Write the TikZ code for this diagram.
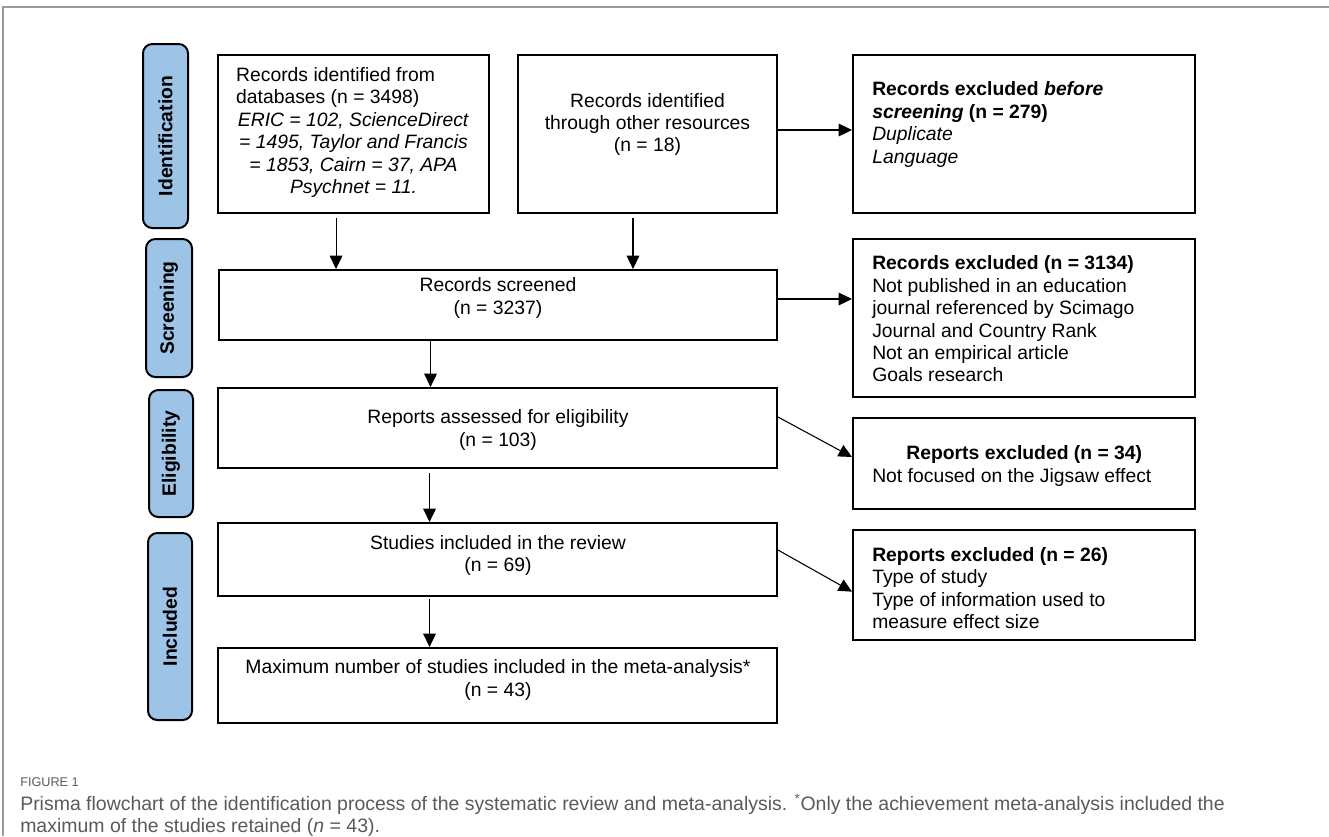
\documentclass[tikz,border=0pt]{standalone}
\usepackage{fontspec}
\setmainfont{Liberation Sans}
\newfontfamily\capfont{Liberation Sans}
\usetikzlibrary{arrows.meta,fit}
\definecolor{labblue}{HTML}{9DC3E6}
\definecolor{capgray}{HTML}{5A5A5A}
\definecolor{framegray}{HTML}{9A9A9A}
\tikzset{
  box/.style={draw, line width=1.5pt, inner sep=0pt, rectangle},
  lab/.style={draw, line width=1.5pt, fill=labblue, rounded corners=7pt, inner sep=0pt},
  labtxt/.style={rotate=90, inner sep=0pt, font=\bfseries\fontsize{14.5}{16.5}\selectfont},
  txt/.style={inner sep=0pt, font=\fontsize{14.5}{16.8}\selectfont},
  arr/.style={line width=0.8pt, -{Triangle[length=10pt,width=9.5pt]}},
  captxt/.style={inner sep=0pt, text=capgray, font=\capfont\fontsize{14.6}{17}\selectfont},
}
\begin{document}
\begin{tikzpicture}[x=0.75pt,y=-0.75pt]
\useasboundingbox (0,0) rectangle (1329,836);
\draw[framegray, line width=1.2pt] (3,836) -- (3,7) -- (1329,7);

% phase labels
\node[lab, fit={(143,44) (188,228)}] (l1) {};
\node[labtxt] (l1t) at (l1.center) {Identification};
\node[lab, fit={(146,239) (192,377)}] (l2) {};
\node[labtxt] (l2t) at (l2.center) {Screening};
\node[lab, fit={(149,390) (193,517)}] (l3) {};
\node[labtxt] (l3t) at (l3.center) {Eligibility};
\node[lab, fit={(148,533) (192,720)}] (l4) {};
\node[labtxt] (l4t) at (l4.center) {Included};

% boxes
\node[box, fit={(218,55) (489,213)}] (b1) {};
\node[box, fit={(518,55) (777,213)}] (b2) {};
\node[box, fit={(853,55) (1195,213)}] (b3) {};
\node[box, fit={(219,270) (777,340)}] (sc) {};
\node[box, fit={(853,239) (1195,397)}] (e1) {};
\node[box, fit={(218,388) (777,468)}] (ra) {};
\node[box, fit={(853,418) (1195,509)}] (e2) {};
\node[box, fit={(218,523) (777,596)}] (st) {};
\node[box, fit={(853,530) (1195,640)}] (e3) {};
\node[box, fit={(218,648) (777,723)}] (mx) {};

% texts
\node[txt, align=center] (b1x) at (353.5,132.5) {\makebox[176pt][l]{Records identified from}\\
\makebox[176pt][l]{databases (n = 3498)}\\
\textit{ERIC = 102, ScienceDirect}\\
\textit{= 1495, Taylor and Francis}\\
\textit{= 1853, Cairn = 37, APA}\\
\textit{Psychnet = 11.}};
\node[txt, align=center] (b2x) at (647.5,124.5) {Records identified\\through other resources\\(n = 18)};
\node[txt, align=left, anchor=west] (b3x) at (872,124.5) {\textbf{Records excluded \textit{before}}\\
\textbf{\textit{screening} (n = 279)}\\
\textit{Duplicate}\\
\textit{Language}};
\node[txt, align=center] (scx) at (498,298) {Records screened\\(n = 3237)};
\node[txt, align=left, anchor=west] (e1x) at (872,319) {\textbf{Records excluded (n = 3134)}\\
Not published in an education\\
journal referenced by Scimago\\
Journal and Country Rank\\
Not an empirical article\\
Goals research};
\node[txt, align=center] (rax) at (498,430) {Reports assessed for eligibility\\(n = 103)};
\node[txt, align=left, anchor=west] (e2x) at (872,466) {\makebox[228pt][c]{\textbf{Reports excluded (n = 34)}}\\
Not focused on the Jigsaw effect};
\node[txt, align=center] (stx) at (498,555.5) {Studies included in the review\\(n = 69)};
\node[txt, align=left, anchor=west] (e3x) at (872,588) {\textbf{Reports excluded (n = 26)}\\
Type of study\\
Type of information used to\\
measure effect size};
\node[txt, align=center] (mxx) at (498,680) {Maximum number of studies included in the meta-analysis*\\(n = 43)};

% connectors
\coordinate (a1) at ([xshift=-13.1pt]b1.south);
\draw[arr] ([yshift=-3pt]a1) -- (a1 |- sc.north);
\coordinate (a2) at ([xshift=-10.9pt]b2.south);
\draw[arr] ([yshift=-3pt]a2) -- (a2 |- sc.north);
\coordinate (a3) at ([yshift=3pt]b2.east);
\draw[arr] (a3) -- (a3 -| b3.west);
\coordinate (a4) at ([yshift=4.5pt]sc.east);
\draw[arr] (a4) -- (a4 -| e1.west);
\coordinate (a5) at ([xshift=159.4pt]sc.south west);
\draw[arr] (a5) -- (a5 |- ra.north);
\draw[arr] ([yshift=-22.5pt]ra.north east) -- ([yshift=-30pt]e2.north west);
\coordinate (a6) at ([xshift=159.4pt]ra.south west);
\draw[arr] ([yshift=-3pt]a6) -- (a6 |- st.north);
\draw[arr] ([yshift=-21pt]st.north east) -- ([yshift=-47pt]e3.north west);
\coordinate (a7) at ([xshift=159.4pt]st.south west);
\draw[arr] ([yshift=-1.5pt]a7) -- (a7 |- mx.north);

% caption
\node[captxt, anchor=base west, font=\capfont\fontsize{9.5}{11}\selectfont] (fig) at (20,786) {FIGURE 1};
\node[captxt, anchor=base west] (cap1) at (20,810.5) {Prisma flowchart of the identification process of the systematic review and meta-analysis. \textsuperscript{*}Only the achievement meta-analysis included the};
\node[captxt, anchor=base west] (cap2) at (20,832) {maximum of the studies retained (\textit{n} = 43).};
\end{tikzpicture}
\end{document}
